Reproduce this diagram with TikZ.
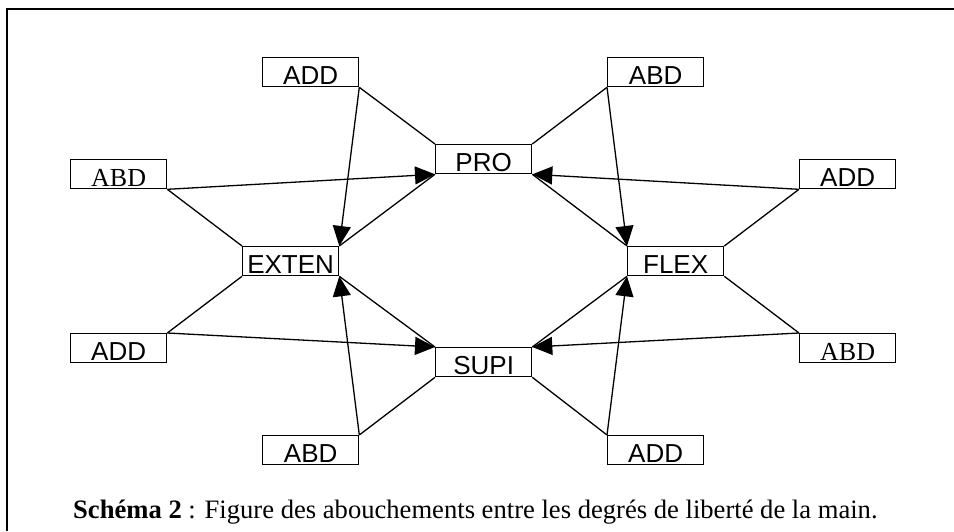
\documentclass[tikz,border=0pt]{standalone}
\usepackage{fontspec}
\setmainfont{Liberation Serif}
\newfontfamily\arialf{Liberation Sans}
\usetikzlibrary{arrows.meta}
\begin{document}
\begin{tikzpicture}[x=1pt,y=-1pt,
  box/.style={draw,line width=1.3pt,minimum width=96pt,inner xsep=0pt,inner ysep=0pt,
    text height=27pt,text depth=2pt,anchor=north west,font=\arialf\fontsize{26}{28}\selectfont},
  sbox/.style={box,font=\rmfamily\fontsize{26}{28}\selectfont},
  ln/.style={line width=1.3pt},
  arr/.style={line width=1.3pt,-{Triangle[length=20pt,width=18pt]}}]
\useasboundingbox (0,0) rectangle (954,531);
\draw[line width=1.5pt] (7,531) coordinate (fb) -- (7,9) coordinate (fc) -- (954,9) coordinate (fr);
% nodes
\node[box]  (addtl) at (262,57)  {ADD};
\node[box]  (abdtr) at (607,57)  {ABD};
\node[sbox] (abdl)  at (70,159)  {ABD};
\node[box]  (pro)   at (435,144) {PRO};
\node[box]  (addr)  at (799,159) {ADD};
\node[box]  (exten) at (242,246) {EXTEN};
\node[box]  (flex)  at (627,246) {FLEX};
\node[box]  (addll) at (70,333)  {ADD};
\node[box]  (supi)  at (435,347) {SUPI};
\node[sbox] (abdrl) at (799,333) {ABD};
\node[box]  (abdbl) at (262,435) {ABD};
\node[box]  (addbr) at (607,435) {ADD};
% upper left
\draw[ln]  (addtl.south east) -- (pro.north west);
\draw[arr] (addtl.south east) -- (exten.north east);
\draw[arr] (abdl.south east) -- (pro.south west);
\draw[ln]  (abdl.south east) -- (exten.north west);
\draw[ln]  (exten.north east) -- (pro.south west);
% upper right
\draw[ln]  (abdtr.south west) -- (pro.north east);
\draw[arr] (abdtr.south west) -- (flex.north west);
\draw[arr] (addr.south west) -- (pro.south east);
\draw[ln]  (addr.south west) -- (flex.north east);
\draw[ln]  (pro.south east) -- (flex.north west);
% lower left
\draw[ln]  (exten.south west) -- (addll.north east);
\draw[arr] (addll.north east) -- (supi.north west);
\draw[ln]  (exten.south east) -- (supi.north west);
\draw[arr] (abdbl.north east) -- (exten.south east);
\draw[ln]  (abdbl.north east) -- (supi.south west);
% lower right
\draw[ln]  (flex.south west) -- (supi.north east);
\draw[arr] (abdrl.north west) -- (supi.north east);
\draw[ln]  (flex.south east) -- (abdrl.north west);
\draw[arr] (addbr.north west) -- (flex.south west);
\draw[ln]  (addbr.north west) -- (supi.south east);
% caption
\node[anchor=base west,inner sep=0pt,font=\rmfamily\fontsize{26.6}{30}\selectfont] (cap) at (73,518)
  {\textbf{Schéma 2} : Figure des abouchements entre les degrés de liberté de la main.};
\end{tikzpicture}
\end{document}
